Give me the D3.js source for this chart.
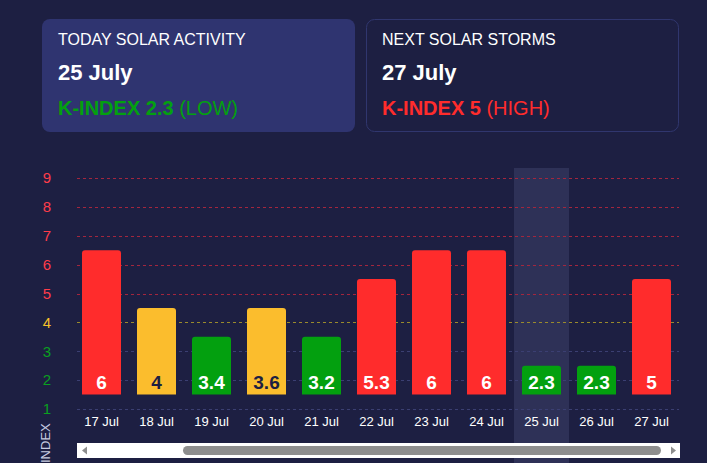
<!DOCTYPE html>
<html><head><meta charset="utf-8">
<script src="https://cdn.jsdelivr.net/npm/d3@7"></script>
<style>
html,body{margin:0;padding:0;background:#1d1f42;overflow:hidden;font-family:Arial,"Liberation Sans",sans-serif;}
</style></head><body>
<svg id="c" width="707" height="463"></svg>
<script>
const days = ["17 Jul","18 Jul","19 Jul","20 Jul","21 Jul","22 Jul","23 Jul","24 Jul","25 Jul","26 Jul","27 Jul"];
const kIndex = [6,4,3.4,3.6,3.2,5.3,6,6,2.3,2.3,5];
const barLevel = [6.5,4.5,3.5,4.5,3.5,5.5,6.5,6.5,2.5,2.5,5.5];
const yTicks = [1,2,3,4,5,6,7,8,9];
const today = "25 Jul";

const RED="#ff2c2c", YEL="#fbbd2d", GRN="#03a00f";
const levelColor = v => v>=5?RED:(v>=4?YEL:GRN);
const tickColor = v => v>=5?"#ff3c4a":(v>=4?"#f5c02a":"#0aa020");
const gridColor = v => v>=5?"#a3263e":(v>=4?"#9a8a2c":"#3b3f72");
const FONT = "Arial,'Liberation Sans',sans-serif";

const svg = d3.select("#c");
svg.append("rect").attr("x",42).attr("y",19).attr("width",313).attr("height",113).attr("rx",8).attr("fill","#2f3470");
svg.append("rect").attr("x",366.5).attr("y",19.5).attr("width",312).attr("height",112).attr("rx",8).attr("fill","none").attr("stroke","#30366e");
function card(x, title, date, kval, kcol, lvl){
  svg.append("text").attr("x",x).attr("y",45).attr("fill","#fff").attr("font-size",16).text(title);
  svg.append("text").attr("x",x).attr("y",80).attr("fill","#fff").attr("font-size",22).attr("font-weight","bold").text(date);
  const t=svg.append("text").attr("x",x).attr("y",115).attr("font-size",20).attr("fill",kcol);
  t.append("tspan").attr("font-weight","bold").text("K-INDEX "+kval);
  t.append("tspan").text(" ("+lvl+")");
}
card(58,"TODAY SOLAR ACTIVITY","25 July","2.3",GRN,"LOW");
card(382,"NEXT SOLAR STORMS","27 July","5",RED,"HIGH");

const x = d3.scaleBand().domain(days).range([74,679]).paddingInner(16/55).paddingOuter(8/55);
const y = d3.scaleLinear().domain([1,9]).range([409,178]);

svg.append("rect").attr("x",x(today)-(x.step()-x.bandwidth())/2).attr("y",168).attr("width",x.step()).attr("height",300).attr("fill","#2e3157");

svg.selectAll(".g").data(yTicks).join("line")
  .attr("x1",77).attr("x2",679).attr("y1",d=>Math.round(y(d))+0.5).attr("y2",d=>Math.round(y(d))+0.5)
  .attr("stroke",gridColor).attr("stroke-dasharray","3,3");
const yAxis = svg.append("g").attr("transform","translate(52,0)").call(d3.axisLeft(y).tickValues(yTicks).tickSize(0).tickFormat(d3.format("d")));
yAxis.attr("font-family",FONT).attr("font-size",15);
yAxis.select(".domain").remove();
yAxis.selectAll("text").attr("fill",tickColor).attr("text-anchor","middle").attr("x",-5);

const base = 1.5;
svg.selectAll(".b").data(days).join("path")
  .attr("fill",(d,i)=>levelColor(barLevel[i]))
  .attr("d",(d,i)=>{
    const x0=x(d), w=x.bandwidth(), t=y(barLevel[i]), b=y(base), r=3;
    return `M${x0},${b}V${t+r}Q${x0},${t} ${x0+r},${t}H${x0+w-r}Q${x0+w},${t} ${x0+w},${t+r}V${b}Z`;
  });
svg.selectAll(".v").data(days).join("text")
  .attr("x",d=>x(d)+x.bandwidth()/2).attr("y",389).attr("text-anchor","middle")
  .attr("font-size",19).attr("font-weight","bold")
  .attr("fill",(d,i)=>levelColor(barLevel[i])===YEL?"#1d1f42":"#fff")
  .text((d,i)=>kIndex[i]);

const xAxis = svg.append("g").attr("transform","translate(0,414)").call(d3.axisBottom(x).tickSize(0));
xAxis.attr("font-family",FONT).attr("font-size",13);
xAxis.select(".domain").remove();
xAxis.selectAll("text").attr("fill","#fff");

svg.append("text").attr("transform","translate(50,476) rotate(-90)").attr("fill","#c8cbe0").attr("font-size",13).text("K-INDEX");

svg.append("rect").attr("x",77).attr("y",443).attr("width",603).attr("height",15).attr("fill","#fff");
svg.append("rect").attr("x",183).attr("y",446).attr("width",478).attr("height",9).attr("rx",4.5).attr("fill","#8e8e8e");
svg.append("path").attr("d","M82,450.5L87,446.5V454.5Z").attr("fill","#8e8e8e");
svg.append("path").attr("d","M676,450.5L671,446.5V454.5Z").attr("fill","#8e8e8e");
</script></body></html>
